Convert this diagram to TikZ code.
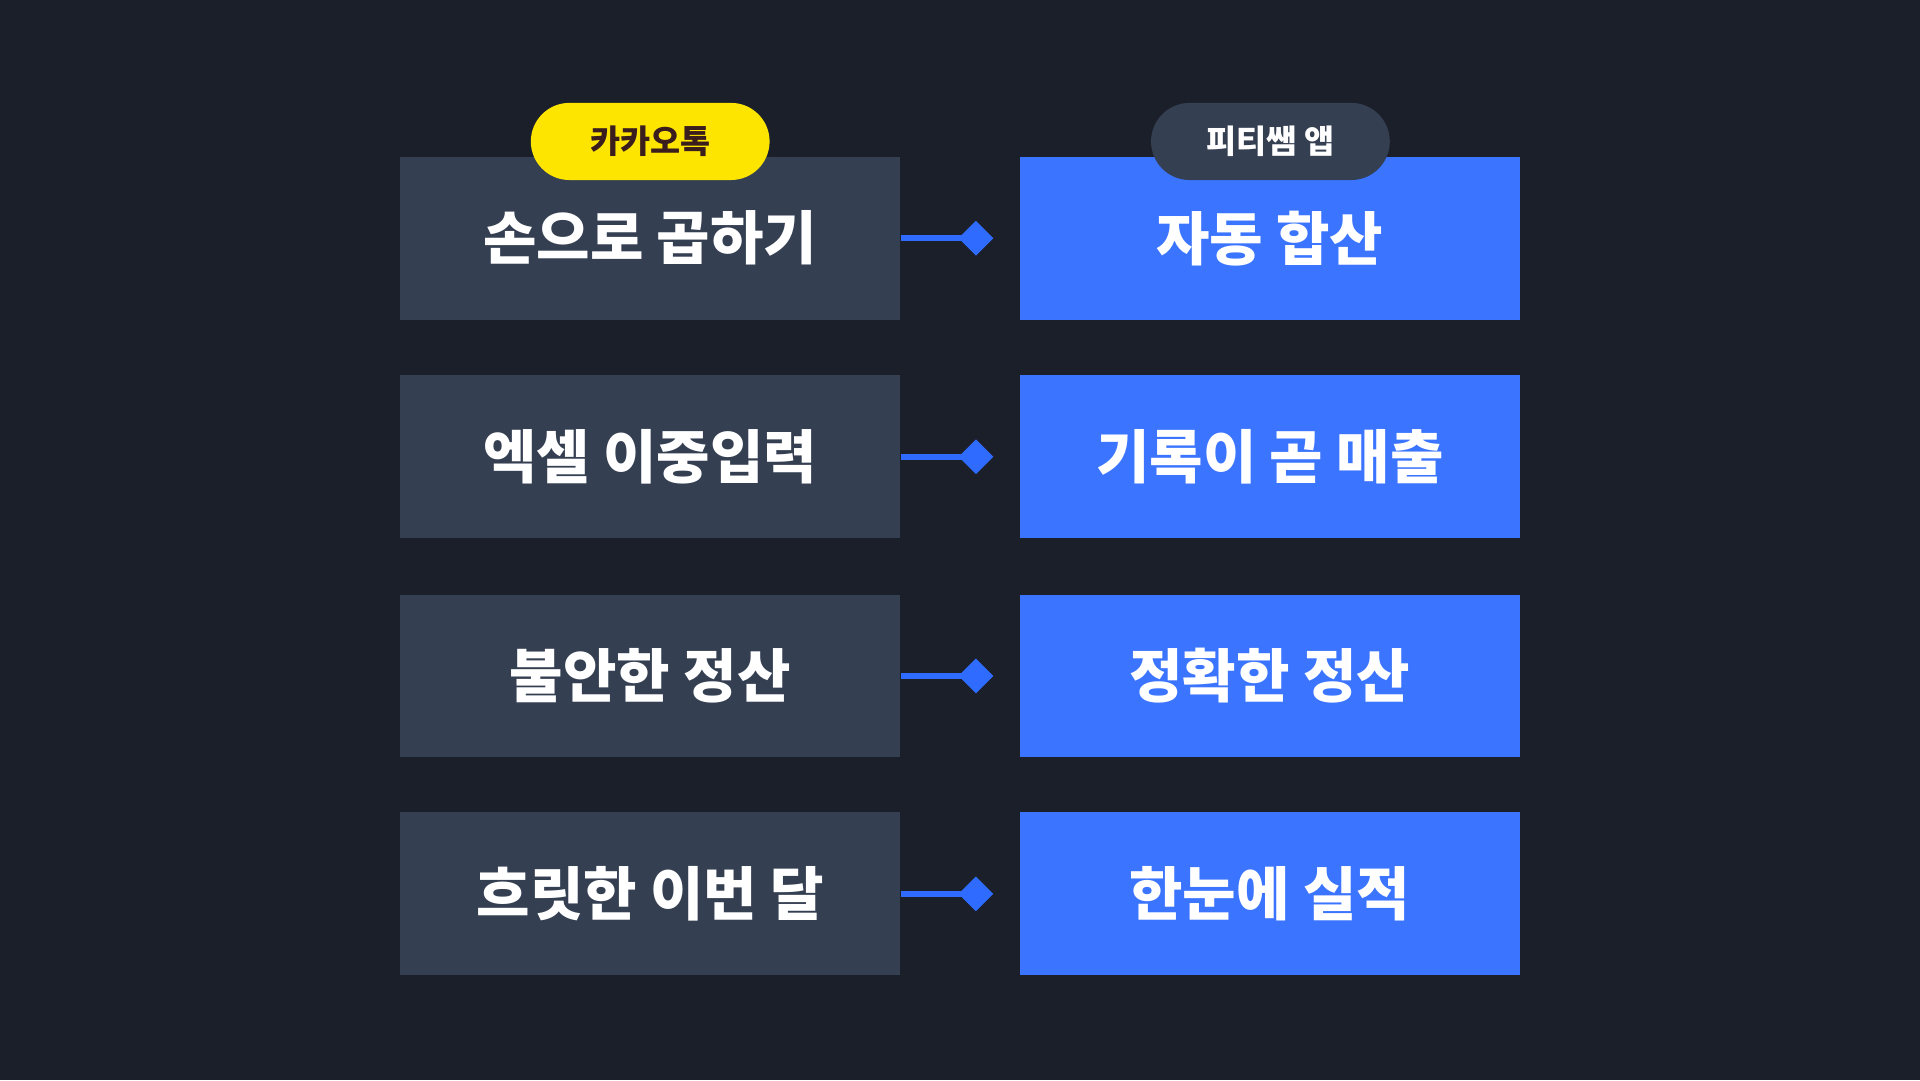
\documentclass[tikz,border=0pt]{standalone}
\usepackage{fontspec}
\setmainfont{Noto Sans CJK KR}
\usetikzlibrary{shapes.geometric}
\definecolor{bgcol}{HTML}{1A1F29}
\definecolor{oldcol}{HTML}{353F52}
\definecolor{newcol}{HTML}{3B74FF}
\definecolor{linkcol}{HTML}{2F6BFF}
\definecolor{kakao}{HTML}{FEE500}
\definecolor{kakaotxt}{HTML}{3A1D1D}
\tikzset{
  oldbox/.style={fill=oldcol, minimum width=4.08cm, minimum height=1.33cm, inner sep=0pt,
    text=white, font=\fontsize{13.5}{16}\selectfont\bfseries},
  newbox/.style={oldbox, fill=newcol},
  tag/.style={rounded corners=0.315cm, minimum width=1.95cm, minimum height=0.63cm, inner sep=0pt,
    font=\fontsize{7.6}{9}\selectfont\bfseries},
  tip/.style={diamond, fill=linkcol, minimum size=0.29cm, inner sep=0pt},
  link/.style={draw=linkcol, line width=1.3pt}
}
\begin{document}
\begin{tikzpicture}
\fill[bgcol] (0,0) rectangle (15.68,-8.82);
\useasboundingbox (0,0) rectangle (15.68,-8.82);
\foreach \y/\a/\b [count=\i] in {-1.945/손으로 곱하기/자동 합산,
                                 -3.73/엑셀 이중입력/기록이 곧 매출,
                                 -5.52/불안한 정산/정확한 정산,
                                 -7.30/흐릿한 이번 달/한눈에 실적}{
  \node[oldbox] (old\i) at (5.31,\y) {\a};
  \node[newbox] (new\i) at (10.37,\y) {\b};
  \node[tip] (tip\i) at (7.97,\y) {};
  \draw[link] (old\i.east) -- (tip\i.center);
}
\node[tag, fill=kakao, text=kakaotxt] (kakao) at (5.31,-1.155) {카카오톡};
\node[tag, fill=oldcol, text=white] (app) at (10.375,-1.155) {피티쌤 앱};
\end{tikzpicture}
\end{document}
